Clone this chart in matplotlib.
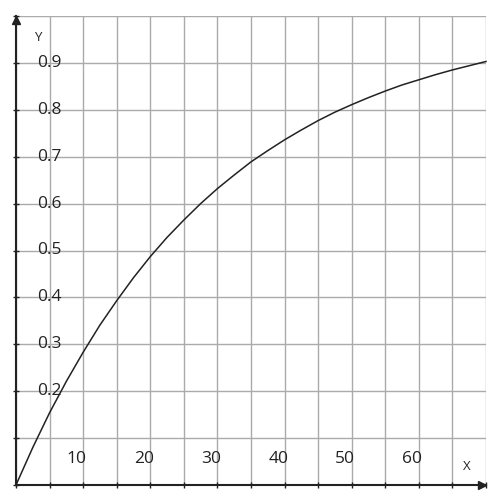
import matplotlib
matplotlib.use("Agg")
import matplotlib.pyplot as plt

x_vals = [0, 2.5, 5, 7.5, 10, 12.5, 15, 17.5, 20, 22.5, 25, 27.5, 30, 32.5, 35,
          37.5, 40, 42.5, 45, 47.5, 50, 52.5, 55, 57.5, 60, 62.5, 65, 67.5, 70]
y_vals = [0.0, 0.080, 0.154, 0.221, 0.283, 0.341, 0.393, 0.442, 0.487, 0.528,
          0.565, 0.600, 0.632, 0.661, 0.689, 0.713, 0.736, 0.757, 0.777, 0.795,
          0.811, 0.826, 0.840, 0.853, 0.864, 0.875, 0.885, 0.894, 0.903]
x_ticks = [10, 20, 30, 40, 50, 60]
y_ticks = [0.2, 0.3, 0.4, 0.5, 0.6, 0.7, 0.8, 0.9]

plt.rcParams['font.family'] = ['Open Sans', 'DejaVu Sans']

fig = plt.figure(figsize=(5, 5), dpi=100)
ax = fig.add_axes([0.032, 0.03, 0.94, 0.938])
ax.set_xlim(0, 70)
ax.set_ylim(0, 1.0)

ax.set_xticks([i * 5 for i in range(15)])
ax.set_yticks([i / 10 for i in range(11)])
ax.grid(True, color='#aaaaaa', linewidth=1.0)
ax.set_axisbelow(True)
ax.tick_params(axis='both', direction='inout', length=5, width=1, color='#222222',
               labelbottom=False, labelleft=False)
for s in ['top', 'right']:
    ax.spines[s].set_visible(False)
for s in ['left', 'bottom']:
    ax.spines[s].set_color('#222222')
    ax.spines[s].set_linewidth(1.5)
    ax.spines[s].set_zorder(5)

ax.plot(x_vals, y_vals, color='#222222', linewidth=1.1, zorder=4, clip_on=False)

# arrows (tips at the axis ends)
ax.plot([0], [0.992], marker='^', color='#222222', markersize=6, clip_on=False, zorder=6)
ax.plot([69.45], [0], marker='>', color='#222222', markersize=6, clip_on=False, zorder=6)

for t in x_ticks:
    ax.text(t - 0.95, 0.055, str(t), ha='center', va='center', fontsize=12.5, color='#222222')
for t in y_ticks:
    ax.text(3.1, t, f"{t:.1f}", ha='left', va='center', fontsize=12.5, color='#222222')

ax.text(3.3, 0.955, 'Y', ha='center', va='center', fontsize=9.5, color='#222222')
ax.text(67.1, 0.04, 'X', ha='center', va='center', fontsize=9.5, color='#222222')

fig.savefig('out.png', dpi=100, facecolor='white')
